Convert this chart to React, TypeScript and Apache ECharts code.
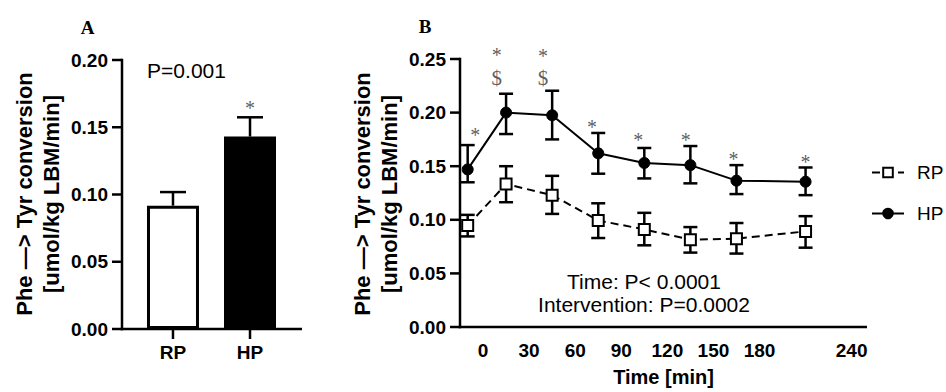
import React, { useEffect, useRef } from "react";
import * as echarts from "echarts";

// ---- Panel A data ----
const groups = ["RP", "HP"];
const groupPos = [0, 1];
const barMeans = [0.0917, 0.1431];
const barErrHigh = [0.1018, 0.1574];
const barStarX = [1];
const barStarY = [0.1665];

// ---- Panel B data ----
const times = [-10, 15, 45, 75, 105, 135, 165, 210];
const hpMean = [0.147, 0.2, 0.1975, 0.162, 0.153, 0.151, 0.1365, 0.1355];
const hpLow = [0.135, 0.18, 0.175, 0.143, 0.1386, 0.134, 0.124, 0.123];
const hpHigh = [0.1697, 0.2176, 0.2204, 0.181, 0.167, 0.1688, 0.151, 0.1488];
const rpMean = [0.0947, 0.1333, 0.123, 0.0994, 0.091, 0.0815, 0.0824, 0.0892];
const rpLow = [0.0845, 0.1164, 0.1055, 0.083, 0.0762, 0.0694, 0.0685, 0.074];
const rpHigh = [0.1046, 0.15, 0.141, 0.1154, 0.1065, 0.0932, 0.097, 0.1034];
const starX = [-5, 9, 39, 71, 101, 132, 163, 210];
const starY = [0.1818, 0.2568, 0.2556, 0.1898, 0.1771, 0.1771, 0.1595, 0.1565];
const dollarX = [9, 39];
const dollarY = [0.2324, 0.2324];
const timeTicks = [0, 30, 60, 90, 120, 150, 180, 240];
const yTicksA = [0, 0.05, 0.1, 0.15, 0.2];
const yTicksB = [0, 0.05, 0.1, 0.15, 0.2, 0.25];

// axis ranges
const xRangeA = [-0.662, 1.675];
const yRangeA = [0, 0.2];
const xRangeB = [-15, 250];
const yRangeB = [0, 0.25];

const SANS = '"Liberation Sans", Arial, sans-serif';
const SERIF = '"Liberation Serif", "Times New Roman", serif';

function errRenderer(halfCap: number, lw: number, withLow: boolean) {
  return (params: any, api: any) => {
    const x = api.value(0);
    const lo = api.value(1);
    const hi = api.value(2);
    const p1 = api.coord([x, lo]);
    const p2 = api.coord([x, hi]);
    const style = { stroke: "#000", lineWidth: lw };
    const children: any[] = [
      { type: "line", shape: { x1: p1[0], y1: p1[1], x2: p2[0], y2: p2[1] }, style },
      { type: "line", shape: { x1: p2[0] - halfCap, y1: p2[1], x2: p2[0] + halfCap, y2: p2[1] }, style },
    ];
    if (withLow) {
      children.push({ type: "line", shape: { x1: p1[0] - halfCap, y1: p1[1], x2: p1[0] + halfCap, y2: p1[1] }, style });
    }
    return { type: "group", children };
  };
}

// axis frame (lines + ticks) drawn as filled rects through the coordinate system
function frameRenderer(xr: number[], yr: number[], yTicks: number[], xTicks: number[]) {
  return (params: any, api: any) => {
    const h = 1.25;
    const o = api.coord([xr[0], yr[0]]);
    const xe = api.coord([xr[1], yr[0]]);
    const ye = api.coord([xr[0], yr[1]]);
    const children: any[] = [
      { type: "rect", shape: { x: o[0] - h, y: o[1] - h, width: xe[0] - o[0] + h, height: 2 * h }, style: { fill: "#000" } },
      { type: "rect", shape: { x: o[0] - h, y: ye[1] - h, width: 2 * h, height: o[1] - ye[1] + 2 * h }, style: { fill: "#000" } },
    ];
    yTicks.forEach((v) => {
      const p = api.coord([xr[0], v]);
      children.push({ type: "rect", shape: { x: p[0] - 10, y: p[1] - h, width: 10, height: 2 * h }, style: { fill: "#000" } });
    });
    xTicks.forEach((v) => {
      const p = api.coord([v, yr[0]]);
      children.push({ type: "rect", shape: { x: p[0] - h, y: p[1], width: 2 * h, height: 10 }, style: { fill: "#000" } });
    });
    return { type: "group", children };
  };
}

export default function App() {
  const ref = useRef<HTMLDivElement>(null);
  useEffect(() => {
    if (!ref.current) return;
    const chart = echarts.init(ref.current, null, { renderer: "svg" });

    const tickLabel = { color: "#000", fontFamily: SANS, fontWeight: "bold", fontSize: 19 };
    const starLabel = {
      show: true,
      position: "inside",
      formatter: "*",
      color: "#333",
      fontFamily: SERIF,
      fontSize: 20,
      lineHeight: 12,
      offset: [0, 3],
    };
    const noLine = { show: false };

    const option: any = {
      animation: false,
      grid: [
        { left: 122, top: 60, width: 180, height: 269 },
        { left: 460, top: 59, width: 407, height: 270 },
      ],
      xAxis: [
        {
          gridIndex: 0,
          type: "value",
          min: xRangeA[0],
          max: xRangeA[1],
          splitLine: { show: false },
          axisLine: noLine,
          axisTick: { show: false },
          axisLabel: {
            ...tickLabel,
            margin: 14,
            customValues: groupPos,
            formatter: (v: number) => groups[Math.round(v)],
          },
        },
        {
          gridIndex: 1,
          type: "value",
          min: xRangeB[0],
          max: xRangeB[1],
          splitLine: { show: false },
          axisLine: noLine,
          axisTick: { show: false },
          axisLabel: {
            ...tickLabel,
            margin: 14,
            customValues: timeTicks,
            formatter: (v: number) => String(v),
          },
          name: "Time [min]",
          nameLocation: "middle",
          nameGap: 40,
          nameTextStyle: { color: "#000", fontFamily: SANS, fontWeight: "bold", fontSize: 20 },
        },
      ],
      yAxis: [
        {
          gridIndex: 0,
          type: "value",
          min: yRangeA[0],
          max: yRangeA[1],
          interval: 0.05,
          splitLine: { show: false },
          axisLine: noLine,
          axisTick: { show: false },
          axisLabel: { ...tickLabel, margin: 14, customValues: yTicksA, formatter: (v: number) => v.toFixed(2) },
        },
        {
          gridIndex: 1,
          type: "value",
          min: yRangeB[0],
          max: yRangeB[1],
          interval: 0.05,
          splitLine: { show: false },
          axisLine: noLine,
          axisTick: { show: false },
          axisLabel: { ...tickLabel, margin: 14, customValues: yTicksB, formatter: (v: number) => v.toFixed(2) },
        },
      ],
      legend: {
        data: ["RP", "HP"],
        orient: "vertical",
        left: 866,
        top: 158,
        itemWidth: 32,
        itemHeight: 12,
        itemGap: 22,
        textStyle: { color: "#000", fontFamily: SANS, fontSize: 19, padding: [0, 0, 0, 8] },
      },
      series: [
        {
          type: "bar",
          name: "bars",
          xAxisIndex: 0,
          yAxisIndex: 0,
          barWidth: 52,
          data: barMeans.map((v, i) => ({
            value: [groupPos[i], v],
            itemStyle: { color: i === 0 ? "#fff" : "#000", borderColor: "#000", borderWidth: 3 },
          })),
          z: 2,
        },
        {
          type: "custom",
          name: "barErr",
          xAxisIndex: 0,
          yAxisIndex: 0,
          renderItem: errRenderer(13, 2.5, false),
          encode: { x: 0, y: [1, 2] },
          data: barMeans.map((v, i) => [groupPos[i], v, barErrHigh[i]]),
          z: 1,
        },
        {
          type: "custom",
          name: "frameA",
          xAxisIndex: 0,
          yAxisIndex: 0,
          clip: false,
          renderItem: frameRenderer(xRangeA, yRangeA, yTicksA, groupPos),
          data: [[0, 0]],
          z: 6,
        },
        {
          type: "scatter",
          name: "barStars",
          xAxisIndex: 0,
          yAxisIndex: 0,
          symbolSize: 0,
          clip: false,
          data: barStarX.map((x, i) => [x, barStarY[i]]),
          label: starLabel,
        },
        {
          type: "custom",
          name: "hpErr",
          xAxisIndex: 1,
          yAxisIndex: 1,
          renderItem: errRenderer(7, 2.5, true),
          encode: { x: 0, y: [1, 2] },
          data: times.map((t, i) => [t, hpLow[i], hpHigh[i]]),
          z: 1,
        },
        {
          type: "custom",
          name: "rpErr",
          xAxisIndex: 1,
          yAxisIndex: 1,
          renderItem: errRenderer(7, 2.5, true),
          encode: { x: 0, y: [1, 2] },
          data: times.map((t, i) => [t, rpLow[i], rpHigh[i]]),
          z: 1,
        },
        {
          type: "custom",
          name: "frameB",
          xAxisIndex: 1,
          yAxisIndex: 1,
          clip: false,
          renderItem: frameRenderer(xRangeB, yRangeB, yTicksB, []),
          data: [[0, 0]],
          z: 6,
        },
        {
          type: "line",
          name: "RP",
          xAxisIndex: 1,
          yAxisIndex: 1,
          data: times.map((t, i) => [t, rpMean[i]]),
          symbol: "rect",
          symbolSize: 11,
          showSymbol: true,
          lineStyle: { color: "#000", width: 2, type: [8, 5] },
          itemStyle: { color: "#fff", borderColor: "#000", borderWidth: 2 },
          z: 3,
        },
        {
          type: "line",
          name: "HP",
          xAxisIndex: 1,
          yAxisIndex: 1,
          data: times.map((t, i) => [t, hpMean[i]]),
          symbol: "circle",
          symbolSize: 11,
          showSymbol: true,
          lineStyle: { color: "#000", width: 2 },
          itemStyle: { color: "#000", borderColor: "#000", borderWidth: 1 },
          z: 3,
        },
        {
          type: "scatter",
          name: "stars",
          xAxisIndex: 1,
          yAxisIndex: 1,
          symbolSize: 0,
          clip: false,
          data: starX.map((x, i) => [x, starY[i]]),
          label: starLabel,
        },
        {
          type: "scatter",
          name: "dollars",
          xAxisIndex: 1,
          yAxisIndex: 1,
          symbolSize: 0,
          clip: false,
          data: dollarX.map((x, i) => [x, dollarY[i]]),
          label: {
            show: true,
            position: "inside",
            formatter: "$",
            color: "#333",
            fontFamily: SERIF,
            fontSize: 21,
            lineHeight: 18,
          },
        },
      ],
      graphic: [
        {
          type: "text",
          x: 87.5,
          y: 27,
          style: { text: "A", font: `bold 19px ${SERIF}`, fill: "#000", align: "center", verticalAlign: "middle", textAlign: "center", textVerticalAlign: "middle" },
        },
        {
          type: "text",
          x: 425,
          y: 26,
          style: { text: "B", font: `bold 19px ${SERIF}`, fill: "#000", align: "center", verticalAlign: "middle", textAlign: "center", textVerticalAlign: "middle" },
        },
        {
          type: "text",
          x: 37.5,
          y: 194,
          rotation: Math.PI / 2,
          style: {
            text: "Phe \u2014> Tyr conversion\n[umol/kg LBM/min]",
            font: `bold 22px ${SANS}`,
            lineHeight: 27,
            fill: "#000",
            align: "center",
            verticalAlign: "middle",
            textAlign: "center",
            textVerticalAlign: "middle",
          },
        },
        {
          type: "text",
          x: 375.5,
          y: 194,
          rotation: Math.PI / 2,
          style: {
            text: "Phe \u2014> Tyr conversion\n[umol/kg LBM/min]",
            font: `bold 22px ${SANS}`,
            lineHeight: 27,
            fill: "#000",
            align: "center",
            verticalAlign: "middle",
            textAlign: "center",
            textVerticalAlign: "middle",
          },
        },
        {
          type: "text",
          x: 186.5,
          y: 70,
          style: { text: "P=0.001", font: `21px ${SANS}`, fill: "#000", align: "center", verticalAlign: "middle", textAlign: "center", textVerticalAlign: "middle" },
        },
        {
          type: "text",
          x: 644,
          y: 293,
          style: {
            text: "Time: P< 0.0001\nIntervention: P=0.0002",
            font: `21px ${SANS}`,
            lineHeight: 23,
            fill: "#000",
            align: "center",
            verticalAlign: "middle",
            textAlign: "center",
            textVerticalAlign: "middle",
          },
        },
      ],
    };
    chart.setOption(option);
    return () => chart.dispose();
  }, []);
  return <div ref={ref} style={{ position: "absolute", left: 0, top: 0, width: 946, height: 392 }} />;
}
